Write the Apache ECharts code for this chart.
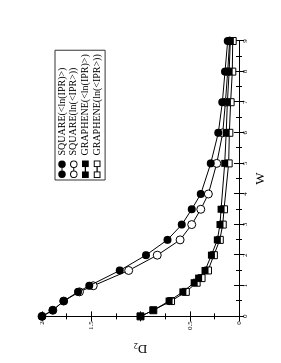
<!DOCTYPE html>
<html><head><meta charset="utf-8">
<script src="https://cdn.jsdelivr.net/npm/echarts@6/dist/echarts.min.js"></script>
<style>
html,body{margin:0;padding:0;width:281px;height:363px;overflow:hidden;background:#fff;}
#wrap{position:absolute;left:0;top:0;width:363px;height:281px;transform-origin:0 0;transform:translateY(363px) rotate(-90deg);}
</style></head><body>
<div id="wrap"></div>
<script>
// W values (disorder strength)
const wSquare = [0, 0.2, 0.5, 0.8, 1, 1.5, 2, 2.5, 3, 3.5, 4, 5, 6, 7, 8, 9];
const wGraphene = [0, 0.2, 0.5, 0.8, 1.1, 1.25, 1.5, 2, 2.5, 3, 3.5, 5, 6, 7, 8, 9];
// D2 values
const squareLnIPR = [2.0, 1.89, 1.78, 1.635, 1.52, 1.21, 0.945, 0.727, 0.58, 0.48, 0.388, 0.287, 0.21, 0.169, 0.142, 0.115];
const squareLnMeanIPR = [2.0, 1.89, 1.78, 1.62, 1.48, 1.12, 0.83, 0.598, 0.48, 0.388, 0.311, 0.226, 0.165, 0.138, 0.115, 0.095];
const grapheneLnIPR = [1.0, 0.87, 0.71, 0.57, 0.455, 0.41, 0.345, 0.28, 0.22, 0.193, 0.182, 0.145, 0.13, 0.118, 0.1, 0.088];
const grapheneLnMeanIPR = [1.0, 0.87, 0.69, 0.54, 0.43, 0.38, 0.315, 0.255, 0.195, 0.165, 0.152, 0.105, 0.098, 0.085, 0.068, 0.064];
const seriesNames = ['SQUARE(<ln(IPR)>)', 'SQUARE(ln(<IPR>))', 'GRAPHENE(<ln(IPR)>)', 'GRAPHENE(ln(<IPR>))'];
const wTicks = [0,1,2,3,4,5,6,7,8,9];
const d2Ticks = [0, 0.5, 1.5, 2];

const pair = (xs, ys) => xs.map((x, i) => [x, ys[i]]);
const serif = 'Liberation Serif';

const iconFilledCircle = 'path://M0,4a4,4 0 1,0 8,0a4,4 0 1,0 -8,0ZM8,3.4L10.7,3.4L10.7,4.6L8,4.6ZM10.7,4a4,4 0 1,0 8,0a4,4 0 1,0 -8,0Z';
const iconOpenCircle = 'path://M0,4a4,4 0 1,0 8,0a4,4 0 1,0 -8,0ZM1,4a3,3 0 1,1 6,0a3,3 0 1,1 -6,0ZM8,3.4L10.7,3.4L10.7,4.6L8,4.6ZM10.7,4a4,4 0 1,0 8,0a4,4 0 1,0 -8,0ZM11.7,4a3,3 0 1,1 6,0a3,3 0 1,1 -6,0Z';
const iconFilledSquare = 'path://M0,0.5h7v7h-7ZM7,3.4h4.7v1.2h-4.7ZM11.7,0.5h7v7h-7Z';
const iconOpenSquare = 'path://M0,0.5h7v7h-7ZM1,1.5v5h5v-5ZM7,3.4h4.7v1.2h-4.7ZM11.7,0.5h7v7h-7ZM12.7,1.5v5h5v-5Z';

function mk(name, data, symbol, size, open, z) {
  return {
    name, type: 'line', data, symbol, symbolSize: size, z,
    lineStyle: { color: '#000', width: 1 },
    itemStyle: open ? { color: '#fff', borderColor: '#000', borderWidth: 1 } : { color: '#000', borderColor: '#000', borderWidth: 0 },
    emphasis: { disabled: true }, animation: false
  };
}

const chart = echarts.init(document.getElementById('wrap'), null, { width: 363, height: 281, renderer: 'canvas' });
const axisCommon = { lineStyle: { color: '#000', width: 1 } };
chart.setOption({
  backgroundColor: '#fff',
  animation: false,
  grid: { left: 42, right: 41, top: 42, bottom: 42 },
  legend: {
    orient: 'vertical', left: 183, top: 55,
    padding: [2, 4, 3, 2], itemGap: 1.7, itemWidth: 17.5, itemHeight: 8,
    borderColor: '#333', borderWidth: 1, backgroundColor: '#fff',
    textStyle: { fontFamily: serif, fontSize: 10, color: '#000', lineHeight: 10 },
    selectedMode: false,
    data: [
      { name: seriesNames[0], icon: iconFilledCircle, itemStyle: { color: '#000', borderWidth: 0 } },
      { name: seriesNames[1], icon: iconOpenCircle, itemStyle: { color: '#000', borderWidth: 0 } },
      { name: seriesNames[2], icon: iconFilledSquare, itemStyle: { color: '#000', borderWidth: 0 } },
      { name: seriesNames[3], icon: iconOpenSquare, itemStyle: { color: '#000', borderWidth: 0 } }
    ]
  },
  xAxis: [{
    type: 'value', min: 0, max: 9, interval: 1, position: 'bottom',
    name: 'W', nameLocation: 'middle', nameGap: 11,
    nameTextStyle: { fontFamily: serif, fontSize: 13, color: '#000' },
    axisLine: axisCommon,
    axisTick: { inside: true, length: 5, lineStyle: { color: '#000' } },
    minorTick: { show: true, splitNumber: 2, length: 3, lineStyle: { color: '#000' } },
    axisLabel: { fontFamily: serif, fontSize: 7, color: '#000', margin: 3, formatter: v => wTicks.includes(v) ? String(v) : '' },
    splitLine: { show: false }
  }, {
    type: 'value', min: 0, max: 9, interval: 1, position: 'top',
    axisLine: axisCommon,
    axisTick: { inside: true, length: 5, lineStyle: { color: '#000' } },
    minorTick: { show: true, splitNumber: 2, length: 3, lineStyle: { color: '#000' } },
    axisLabel: { show: false }, splitLine: { show: false }
  }],
  yAxis: [{
    type: 'value', min: 0, max: 2, interval: 0.5, position: 'left',
    name: '{a|D}{b|2}', nameLocation: 'middle', nameGap: 18,
    nameTextStyle: { color: '#000', rich: {
      a: { fontFamily: serif, fontSize: 13, color: '#000' },
      b: { fontFamily: serif, fontSize: 8, color: '#000', padding: [7, 0, 0, 0] }
    } },
    axisLine: axisCommon,
    axisTick: { inside: true, length: 5, lineStyle: { color: '#000' } },
    minorTick: { show: true, splitNumber: 2, length: 3, lineStyle: { color: '#000' } },
    axisLabel: { fontFamily: serif, fontSize: 7, color: '#000', margin: 5, formatter: v => d2Ticks.includes(v) ? String(v) : '' },
    splitLine: { show: false }
  }, {
    type: 'value', min: 0, max: 2, interval: 0.5, position: 'right',
    axisLine: axisCommon,
    axisTick: { inside: true, length: 5, lineStyle: { color: '#000' } },
    minorTick: { show: true, splitNumber: 2, length: 3, lineStyle: { color: '#000' } },
    axisLabel: { show: false }, splitLine: { show: false }
  }],
  series: [
    mk(seriesNames[0], pair(wSquare, squareLnIPR), 'circle', 8, false, 4),
    mk(seriesNames[1], pair(wSquare, squareLnMeanIPR), 'circle', 8, true, 3),
    mk(seriesNames[2], pair(wGraphene, grapheneLnIPR), 'rect', 7, false, 4),
    mk(seriesNames[3], pair(wGraphene, grapheneLnMeanIPR), 'rect', 7, true, 3)
  ]
});
</script>
</body></html>
